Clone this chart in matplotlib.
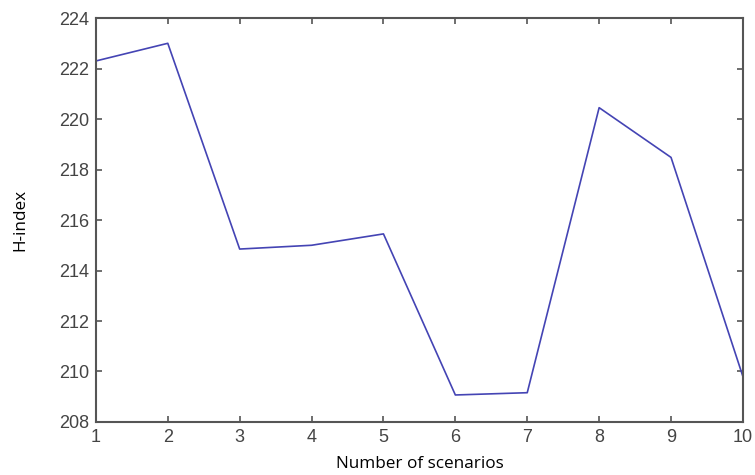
import matplotlib
matplotlib.use("Agg")
import matplotlib.pyplot as plt

scenarios = [1, 2, 3, 4, 5, 6, 7, 8, 9, 10]
h_index = [222.3, 223.0, 214.85, 215.0, 215.45, 209.07, 209.16, 220.45, 218.48, 209.8]

plt.rcParams["font.family"] = ["Liberation Sans", "DejaVu Sans"]

fig = plt.figure(figsize=(7.55, 4.75), dpi=100)
ax = fig.add_axes([0.127, 0.1116, 0.857, 0.8504])

ax.plot(scenarios, h_index, color="#4444b4", linewidth=1.2)

ax.set_xlim(1, 10)
ax.set_ylim(208, 224)
ax.set_xticks(range(1, 11))
ax.set_yticks(range(208, 225, 2))

for sp in ax.spines.values():
    sp.set_color("#555555")
    sp.set_linewidth(1.5)
ax.tick_params(direction="in", length=4, width=1.2, color="#555555",
               top=True, right=True, labelsize=13, labelcolor="#444444", pad=5)

ax.set_xlabel("Number of scenarios", fontsize=12.3, fontfamily="Open Sans", labelpad=7)
ax.set_ylabel("H-index", fontsize=12.3, fontfamily="Open Sans", labelpad=22)

fig.savefig("out.png", dpi=100)
